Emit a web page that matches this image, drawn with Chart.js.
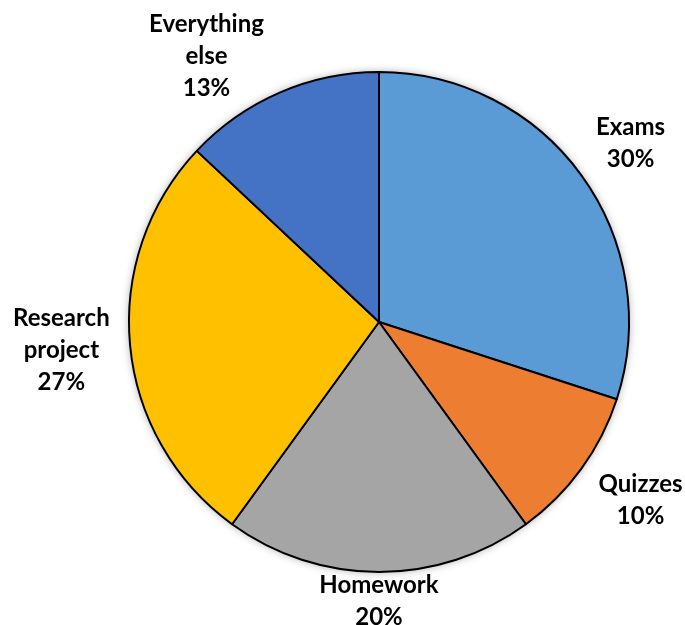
<!DOCTYPE html>
<html>
<head>
<meta charset="utf-8">
<title>Grade breakdown</title>
<script src="https://cdn.jsdelivr.net/npm/chart.js@4.4.1/dist/chart.umd.min.js"></script>
<style>
  body { margin: 0; background: #fff; }
  #wrap { width: 685px; height: 625px; }
</style>
</head>
<body>
<div id="wrap"><canvas id="myChart" width="685" height="625"></canvas></div>
<script>
// data
const categories = ["Exams", "Quizzes", "Homework", "Research project", "Everything else"];
const shares = [30, 10, 20, 27, 13];
const labelLines = [["Exams"], ["Quizzes"], ["Homework"], ["Research", "project"], ["Everything", "else"]];
const colors = ["#5B9BD5", "#ED7D31", "#A5A5A5", "#FFC000", "#4472C4"];

// label nudges from the radial anchor (x, y)
const labelShift = [[4, 1], [14, -2], [0, -27], [-13, -1], [-51, 15]];

// soft shadow under the pie
const pieShadow = {
  id: "pieShadow",
  beforeDatasetsDraw(chart) {
    const arc = chart.getDatasetMeta(0).data[0];
    if (!arc) return;
    const ctx = chart.ctx;
    ctx.save();
    ctx.shadowColor = "rgba(0,0,0,0.35)";
    ctx.shadowBlur = 8;
    ctx.fillStyle = "#fff";
    ctx.beginPath();
    ctx.arc(arc.x, arc.y, arc.outerRadius, 0, Math.PI * 2);
    ctx.fill();
    ctx.restore();
  }
};

// outside labels
const outsideLabels = {
  id: "outsideLabels",
  afterDatasetsDraw(chart) {
    const ctx = chart.ctx;
    const meta = chart.getDatasetMeta(0);
    ctx.save();
    ctx.font = "bold 24px Lato";
    ctx.fillStyle = "#000";
    ctx.textAlign = "center";
    ctx.textBaseline = "middle";
    meta.data.forEach((arc, i) => {
      const mid = (arc.startAngle + arc.endAngle) / 2;
      const d = arc.outerRadius + 56;
      const cx = arc.x + Math.cos(mid) * d + labelShift[i][0];
      const cy = arc.y + Math.sin(mid) * d + labelShift[i][1];
      const lines = labelLines[i].concat([shares[i] + "%"]);
      const lh = 32;
      const top = cy - (lines.length - 1) * lh / 2;
      lines.forEach((t, j) => ctx.fillText(t, cx, top + j * lh));
    });
    ctx.restore();
  }
};

const ctx = document.getElementById("myChart").getContext("2d");
const myChart = new Chart(ctx, {
  type: "pie",
  data: {
    labels: categories,
    datasets: [
      {
        data: shares,
        backgroundColor: colors,
        borderColor: "#000",
        borderWidth: 2,
        radius: 250,
      },
    ],
  },
  options: {
    responsive: false,
    animation: false,
    layout: { padding: { left: 73, right: 0, top: 19, bottom: 0 } },
    plugins: {
      legend: { display: false },
      tooltip: { enabled: false },
    },
  },
  plugins: [pieShadow, outsideLabels],
});
</script>
</body>
</html>
